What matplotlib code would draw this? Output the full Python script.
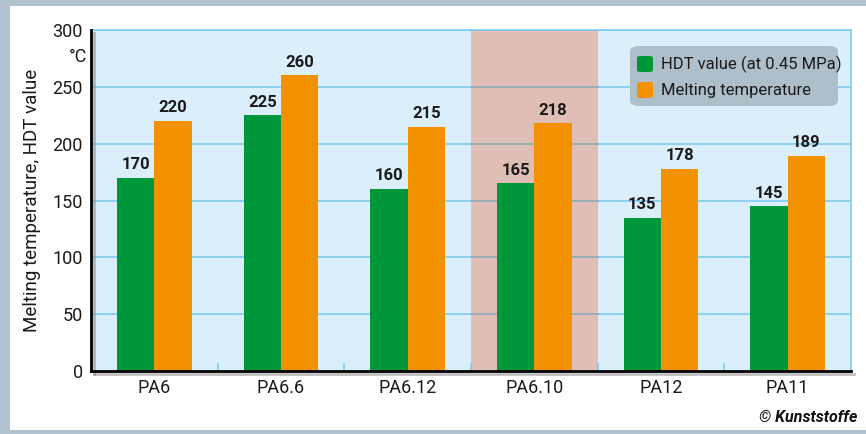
import matplotlib
matplotlib.use("Agg")
import matplotlib.pyplot as plt
import matplotlib.patches as mpatches
from matplotlib.patches import FancyBboxPatch
import matplotlib.patheffects as pe
from matplotlib import font_manager
import numpy as np

categories = ["PA6", "PA6.6", "PA6.12", "PA6.10", "PA12", "PA11"]
hdt = [170, 225, 160, 165, 135, 145]
melting = [220, 260, 215, 218, 178, 189]
series_names = ["HDT value (at 0.45 MPa)", "Melting temperature"]
yticks = [0, 50, 100, 150, 200, 250, 300]
highlight = "PA6.10"

green = "#00963a"
orange = "#f39200"
bg = "#dbeefb"
grid = "#7fcaf0"

installed = {f.name for f in font_manager.fontManager.ttflist}
main_font = "Roboto" if "Roboto" in installed else "Open Sans"
plt.rcParams['font.family'] = [main_font, 'DejaVu Sans']

fig = plt.figure(figsize=(8.66, 4.34), dpi=100)
# outer frame
fig.patches.append(mpatches.Rectangle((0, 0), 1, 1, transform=fig.transFigure,
                                      facecolor="#b0c2cd", edgecolor="none", zorder=-10))
fig.patches.append(mpatches.Rectangle((10/866, 4/434), 1, (428-4)/434,
                                      transform=fig.transFigure, facecolor="white",
                                      edgecolor="none", zorder=-9))

ax = fig.add_axes([91/866, 1-371/434, (851-91)/866, (371-30)/434])
ax.set_facecolor(bg)
x = np.arange(len(categories))
w = 0.296
hi = categories.index(highlight)
ax.axvspan(hi-0.5, hi+0.5, color="#dfbfb5", zorder=0.5, lw=0)
for yv in yticks[1:]:
    ax.axhline(yv, color=grid, lw=1.2, zorder=0.4)
    ax.plot([hi-0.5, hi+0.5], [yv, yv], color="#8eaab8", lw=1.2, zorder=0.6)

b1 = ax.bar(x - w/2, hdt, w, color=green, zorder=2, label=series_names[0])
b2 = ax.bar(x + w/2, melting, w, color=orange, zorder=2, label=series_names[1])
for xi, v in zip(x - w/2, hdt):
    ax.text(xi, v + 5, str(v), ha="center", va="bottom", fontsize=12, fontweight="bold", color="#1a1a1a")
for xi, v in zip(x + w/2, melting):
    ax.text(xi, v + 5, str(v), ha="center", va="bottom", fontsize=12, fontweight="bold", color="#1a1a1a")

# small ticks between groups
for b in np.arange(0.5, len(categories)-0.5, 1):
    ax.plot([b, b], [0, 6], color=grid, lw=1.2, zorder=0.6)

ax.set_xlim(-0.5, len(categories)-0.5)
ax.set_ylim(0, 300)
ax.set_yticks(yticks)
ax.set_yticklabels([str(t) for t in yticks], fontsize=13, color="#1a1a1a")
ax.set_xticks(x)
ax.set_xticklabels(categories, fontsize=13, color="#1a1a1a")
ax.tick_params(axis="both", length=0, pad=6)
for s in ["top", "right"]:
    ax.spines[s].set_color(grid)
    ax.spines[s].set_linewidth(1.2)
for s in ["left", "bottom"]:
    ax.spines[s].set_color("black")
    ax.spines[s].set_linewidth(2)
    ax.spines[s].set_zorder(5)
    ax.spines[s].set_path_effects([pe.SimpleLineShadow(offset=(2, -2), shadow_color="gray", alpha=0.5), pe.Normal()])

ax.set_ylabel("Melting temperature, HDT value", fontsize=13.5, color="#1a1a1a")
ax.yaxis.set_label_coords(-50/760, 0.5)
fig.text(78/866, 1-57/434, "°C", ha="center", va="center", fontsize=13, color="#1a1a1a")

# legend
lx0, ly0, lx1, ly1 = 630, 46, 838, 106
lb = FancyBboxPatch((lx0/866, 1-ly1/434), (lx1-lx0)/866, (ly1-ly0)/434,
                    boxstyle="round,pad=0,rounding_size=0.012", transform=fig.transFigure,
                    facecolor="#aebfca", edgecolor="none", zorder=10)
fig.patches.append(lb)
for i, (name, col) in enumerate(zip(series_names, [green, orange])):
    cy = 64 + i*26
    sq = FancyBboxPatch((637/866, 1-(cy+8)/434), 16/866, 16/434,
                        boxstyle="round,pad=0,rounding_size=0.004", transform=fig.transFigure,
                        facecolor=col, edgecolor="none", zorder=11)
    fig.patches.append(sq)
    fig.text(661/866, 1-cy/434, name, ha="left", va="center", fontsize=12,
             color="#1a1a1a", zorder=12)

fig.text(857/866, 1-418/434, "© Kunststoffe", ha="right", va="center", fontsize=11.5,
         fontweight="bold", fontstyle="italic", color="#111111")

fig.savefig("out.png", dpi=100)
